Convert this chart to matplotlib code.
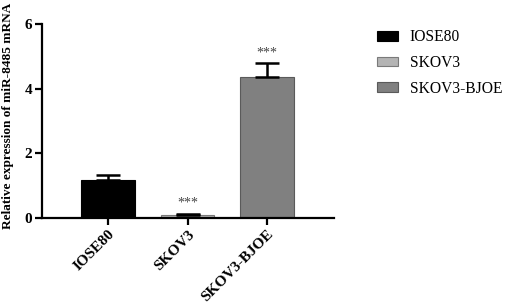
import matplotlib
matplotlib.use("Agg")
import matplotlib.pyplot as plt
from matplotlib.patches import Patch

categories = ["IOSE80", "SKOV3", "SKOV3-BJOE"]
values = [1.18, 0.09, 4.37]
errors = [0.16, 0.04, 0.41]
stars = ["", "***", "***"]
colors = ["#000000", "#b4b4b4", "#808080"]
edges = ["#000000", "#7a7a7a", "#5a5a5a"]

plt.rcParams['font.family'] = ['Liberation Serif', 'DejaVu Serif']

fig = plt.figure(figsize=(5.05, 3.04), dpi=100)
ax = fig.add_axes([0.0832, 0.283, 0.578, 0.638])
x = list(range(len(categories)))
ax.bar(x, values, width=0.67, color=colors, edgecolor=edges, linewidth=0.8, zorder=2)
ax.errorbar(x, values, yerr=[[0]*3, errors], fmt='none', ecolor='black',
            elinewidth=1.8, capsize=8.6, capthick=1.8, zorder=3)
for xi, v, e, s in zip(x, values, errors, stars):
    if s:
        ax.text(xi, v + e + 0.12, s, ha='center', va='bottom', fontsize=10, color='#444444')

ax.set_xlim(-0.83, 2.84)
ax.set_ylim(0, 6)
ax.set_yticks([0, 2, 4, 6])
ax.set_xticks(x)
ax.set_xticklabels(categories, rotation=45, ha='right', rotation_mode='anchor',
                   fontweight='bold', fontsize=11)
for lab in ax.get_yticklabels():
    lab.set_fontweight('bold')
    lab.set_fontsize(11)
ax.set_ylabel("Relative expression of miR-8485 mRNA", fontweight='bold', fontsize=9.5)
ax.yaxis.set_label_coords(-0.095, 0.525)
for sp in ['top', 'right']:
    ax.spines[sp].set_visible(False)
for sp in ['left', 'bottom']:
    ax.spines[sp].set_linewidth(1.6)
ax.tick_params(width=1.6, length=5, direction='out', pad=2)

handles = [Patch(facecolor=c, edgecolor=e, linewidth=0.8) for c, e in zip(colors, edges)]
fig.legend(handles, categories, loc='upper left', bbox_to_anchor=(0.737, 0.919),
           frameon=False, fontsize=11.2, handlelength=1.35, handleheight=0.6,
           labelspacing=0.62, handletextpad=0.75, borderaxespad=0, borderpad=0.3)

fig.savefig("out.png", dpi=100)
